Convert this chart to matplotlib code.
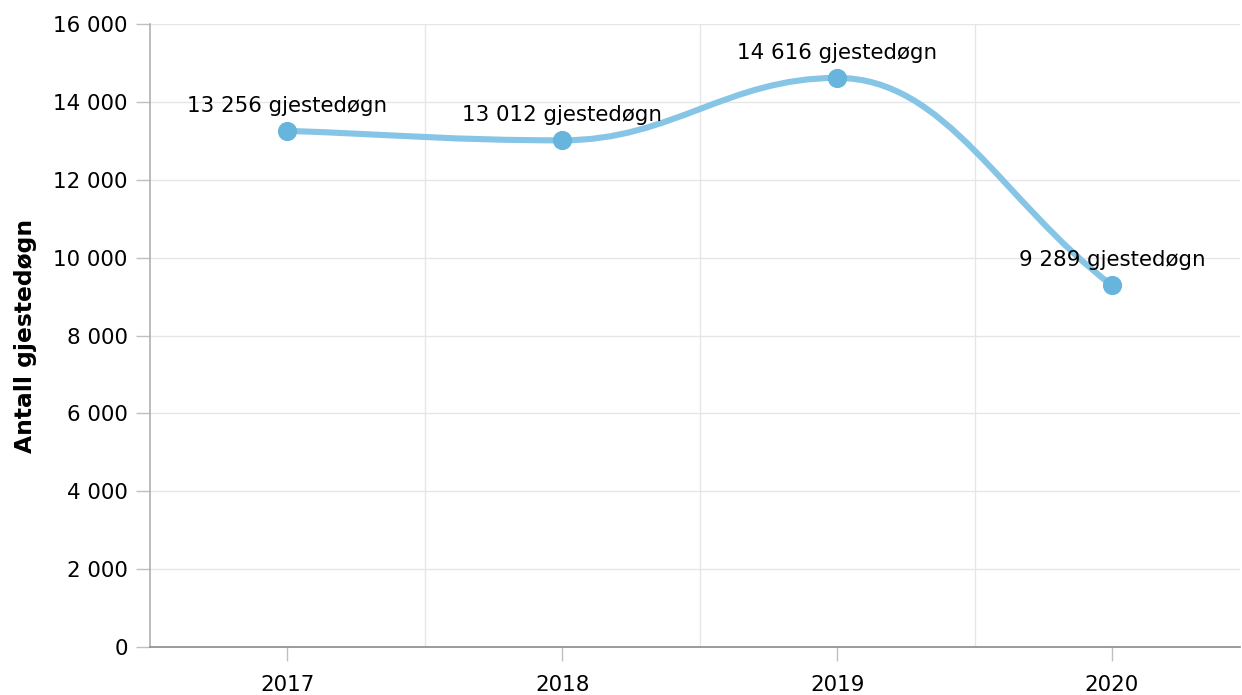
import matplotlib
matplotlib.use("Agg")
import matplotlib.pyplot as plt
from matplotlib.path import Path
from matplotlib.patches import PathPatch
from matplotlib.ticker import FuncFormatter, FixedLocator

years = ["2017", "2018", "2019", "2020"]
values = [13256, 13012, 14616, 9289]
y_ticks = [0, 2000, 4000, 6000, 8000, 10000, 12000, 14000, 16000]
unit = "gjestedøgn"
y_title = "Antall gjestedøgn"

LINE = "#86c5e5"
MARK = "#67b5dc"
GRID = "#e6e6e6"
FS = 15.4

plt.rcParams['font.family'] = ['DejaVu Sans']

fig = plt.figure(figsize=(12.42, 6.95), dpi=100)
ax = fig.add_axes([150/1242, 48/695, 1090/1242, 623/695])

xs = list(range(len(values)))


def spline_path(px, py, smoothing=1.5):
    denom = smoothing + 1
    n = len(px)
    left = [None]*n
    right = [None]*n
    for i in range(1, n-1):
        x, y = px[i], py[i]
        lx, ly = px[i-1], py[i-1]
        nx, ny = px[i+1], py[i+1]
        lcx = (smoothing*x + lx)/denom
        lcy = (smoothing*y + ly)/denom
        rcx = (smoothing*x + nx)/denom
        rcy = (smoothing*y + ny)/denom
        corr = 0
        if rcx != lcx:
            corr = ((rcy - lcy)*(rcx - x))/(rcx - lcx) + y - rcy
        lcy += corr
        rcy += corr
        if lcy > ly and lcy > y:
            lcy = max(ly, y); rcy = 2*y - lcy
        elif lcy < ly and lcy < y:
            lcy = min(ly, y); rcy = 2*y - lcy
        if rcy > ny and rcy > y:
            rcy = max(ny, y); lcy = 2*y - rcy
        elif rcy < ny and rcy < y:
            rcy = min(ny, y); lcy = 2*y - rcy
        left[i] = (lcx, lcy)
        right[i] = (rcx, rcy)
    # end points: control along the chord
    right[0] = ((smoothing*px[0] + px[1])/denom, (smoothing*py[0] + py[1])/denom)
    left[n-1] = ((smoothing*px[n-1] + px[n-2])/denom, (smoothing*py[n-1] + py[n-2])/denom)
    verts = [(px[0], py[0])]
    codes = [Path.MOVETO]
    for i in range(1, n):
        verts += [right[i-1], left[i], (px[i], py[i])]
        codes += [Path.CURVE4]*3
    return Path(verts, codes)


path = spline_path(xs, values)
ax.add_patch(PathPatch(path, facecolor='none', edgecolor=LINE, lw=4.4,
                       capstyle='round', joinstyle='round', zorder=3))
ax.plot(xs, values, 'o', color=MARK, markersize=12.8, zorder=4)

for x, v in zip(xs, values):
    lab = f"{v:,}".replace(",", " ") + " " + unit
    ax.annotate(lab, (x, v), xytext=(0, 25), textcoords='offset pixels',
                ha='center', va='center', fontsize=FS, color='black', zorder=5)

ax.set_xlim(-0.5, 3.466)
ax.set_ylim(0, 16000)
ax.yaxis.set_major_locator(FixedLocator(y_ticks))
ax.yaxis.set_major_formatter(FuncFormatter(lambda v, p: f"{int(v):,}".replace(",", " ")))
ax.set_xticks(xs)
ax.set_xticklabels(years)
ax.set_xticks([0.5, 1.5, 2.5], minor=True)

ax.grid(axis='y', which='major', color=GRID, lw=1.0, zorder=0)
ax.grid(axis='x', which='minor', color=GRID, lw=1.0, zorder=0)
ax.set_axisbelow(True)

for s in ['top', 'right']:
    ax.spines[s].set_visible(False)
ax.spines['left'].set_color('#b0b0b0')
ax.spines['left'].set_linewidth(1.2)
ax.spines['bottom'].set_color('#8a8a8a')
ax.spines['bottom'].set_linewidth(1.2)

ax.tick_params(axis='y', which='major', length=10, width=1, color='#c0c0c0',
               labelsize=FS, labelcolor='black', pad=6)
ax.tick_params(axis='x', which='major', length=10, width=1, color='#c0c0c0',
               labelsize=FS, labelcolor='black', pad=10)
ax.tick_params(axis='x', which='minor', length=0)

ax.set_ylabel(y_title, fontsize=16.8, fontweight='bold')
ax.yaxis.set_label_coords(-113/1090, 0.5)

fig.savefig("out.png", dpi=100)
